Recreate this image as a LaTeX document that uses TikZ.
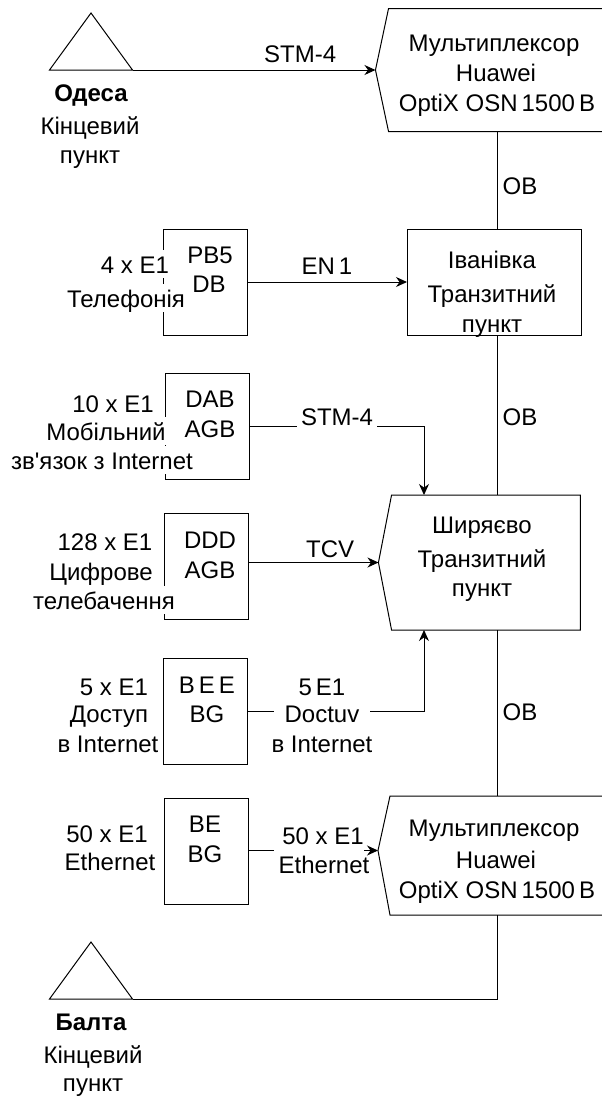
\documentclass[tikz,border=0pt]{standalone}
\usepackage{fontspec}
\setmainfont{Liberation Sans}[Ligatures=TeXOff]
\usetikzlibrary{shapes.geometric, shapes.symbols, arrows.meta, positioning, calc}

\tikzset{
  txt/.style={inner sep=0pt, text height=18pt, text depth=0pt, yshift=2pt, font=\fontsize{24}{26}\selectfont},
  txtw/.style={txt, fill=white, inner xsep=1pt, inner ysep=5pt},
  unitbox/.style={draw, rectangle, fill=white, line width=1pt, minimum width=84pt, minimum height=106pt, inner sep=0pt, outer sep=0pt},
  endtri/.style={draw, isosceles triangle, isosceles triangle stretches, shape border rotate=90, line width=1pt, minimum width=83pt, minimum height=57pt, inner sep=0pt, outer sep=0pt, anchor=apex},
  muxbox/.style={draw, signal, signal to=west, signal from=nowhere, line width=1pt, inner sep=0pt, outer sep=0pt},
  arr/.style={-{Stealth[length=11pt,width=10pt]}, line width=1pt},
  lnk/.style={line width=1pt}
}

\begin{document}
\begin{tikzpicture}[x=1pt, y=-1pt]
    \clip (0,0) rectangle (602,1096);

    \node [endtri] (odesa) at (91,13) {};
    \node [endtri] (balta) at (91,942) {};

    \node [muxbox, minimum width=236pt, minimum height=123pt, signal pointer angle=156] (muxtop) at (500,70) {};
    \node [muxbox, minimum width=202pt, minimum height=135pt, signal pointer angle=158] (shir) at (486,562.5) {};
    \node [draw, rectangle, line width=1pt, minimum width=174pt, minimum height=106pt, inner sep=0pt, outer sep=0pt] (ivan) at (494,282) {};

    % the lower multiplexer has its point above the middle
    \coordinate (muxbotw) at (378,850.5);
    \coordinate (muxbotn) at (497,796);
    \coordinate (muxbots) at (497,915);
    \draw [lnk] (390,796) -- (muxbotw) -- (390,915) -- (612,915) -- (612,796) -- cycle;

    \node [unitbox] (pbbox) at (205,282) {};
    \node [unitbox] (dabbox) at (207,426) {};
    \node [unitbox] (dddbox) at (206,566) {};
    \node [unitbox] (beebox) at (205.5,711.5) {};
    \node [unitbox] (bebox) at (206,851.5) {};

    \coordinate (trunk) at (497,0);
    \coordinate (shirtop) at (424,495);
    \coordinate (shirbot) at (424,630);

    % links
    \draw [arr] (odesa.right corner) -- node[pos=.69, above=5pt, txt] (stma) {STM-4} (muxtop.west);
    \draw [lnk] (muxtop.south -| trunk) -- (ivan.north -| trunk);
    \draw [lnk] (ivan.south -| trunk) -- (shir.north -| trunk);
    \draw [lnk] (shir.south -| trunk) -- (muxbotn);
    \draw [lnk] (balta.right corner) -| (muxbots);
    \draw [arr] (pbbox.east) -- node[above=5pt, txt] (enone) {EN\,1} (ivan.west);
    \draw [arr] (dabbox.east) -| (shirtop);
    \draw [arr] (dddbox.east |- shir.west) -- node[pos=.63, above=3pt, txt] (tcv) {TCV} (shir.west);
    \draw [arr] (beebox.east) -| (shirbot);
    \draw [arr] (bebox.east |- muxbotw) -- (muxbotw);

    % Odesa
    \node [txt, font=\fontsize{24}{26}\selectfont\bfseries] (odn) at (91,94) {Одеса};
    \node [txt] (odk) at (90,127) {Кінцевий};
    \node [txt] (odp) at (90,156) {пункт};

    % Balta
    \node [txt, font=\fontsize{24}{26}\selectfont\bfseries] (ban) at (91,1023) {Балта};
    \node [txt] (bak) at (93,1056) {Кінцевий};
    \node [txt] (bap) at (93,1084) {пункт};

    % multiplexers
    \node [txt] (mta) at (494,44) {Мультиплексор};
    \node [txt] (mtb) at (496,74) {Huawei};
    \node [txt] (mtc) at (497,104) {OptiX OSN\,1500\,B};
    \node [txt] (mba) at (494,829) {Мультиплексор};
    \node [txt] (mbb) at (496,861) {Huawei};
    \node [txt] (mbc) at (497,891) {OptiX OSN\,1500\,B};

    % transit points
    \node [txt] (iva) at (492,261) {Іванівка};
    \node [txt] (ivb) at (492,295) {Транзитний};
    \node [txt] (ivc) at (492,325) {пункт};
    \node [txt] (sha) at (482,526) {Ширяєво};
    \node [txt] (shb) at (482,560) {Транзитний};
    \node [txt] (shc) at (482,589) {пункт};

    % fibre labels
    \node [txt] (oba) at (520,187) {ОВ};
    \node [txt] (obb) at (520,418) {ОВ};
    \node [txt] (obc) at (520,713) {ОВ};

    % unit labels
    \node [txt] (pba) at (210,256) {PB5};
    \node [txt] (pbb) at (209,285) {DB};
    \node [txt] (daa) at (210,400) {DAB};
    \node [txt] (dab) at (210,430) {AGB};
    \node [txt] (dda) at (210,541) {DDD};
    \node [txt] (ddb) at (210,571) {AGB};
    \node [txt] (bea) at (207,686) {B\,E\,E};
    \node [txt] (beb) at (207,715) {BG};
    \node [txt] (bga) at (205,825) {BE};
    \node [txt] (bgb) at (205,855) {BG};

    % inputs
    \node [txtw] (tea) at (135,266) {4 x E1};
    \node [txtw] (teb) at (126,300) {Телефонія};
    \node [txt] (moa) at (113,405) {10 x E1};
    \node [txtw] (mob) at (106,433) {Мобільний};
    \node [txtw] (moc) at (102,462) {зв'язок з Internet};
    \node [txt] (cia) at (105,543) {128 x E1};
    \node [txt] (cib) at (101,573) {Цифрове};
    \node [txtw] (cic) at (104,602) {телебачення};
    \node [txt] (ina) at (114,688) {5 x E1};
    \node [txt] (inb) at (109,715) {Доступ};
    \node [txt] (inc) at (108,745) {в Internet};
    \node [txt] (eta) at (107,835) {50 x E1};
    \node [txt] (etb) at (110,863) {Ethernet};

    % link labels
    \node [txtw, inner xsep=4pt] (stmb) at (337,418) {STM-4};
    \node [txt] (doa) at (322,688) {5\,E1};
    \node [txtw, inner xsep=11pt] (dob) at (322,715) {Doctuv};
    \node [txt] (doc) at (322,745) {в Internet};
    \node [txtw, inner xsep=0pt, inner ysep=9pt] (eaa) at (319,837) {\hspace*{8pt}50 x E1};
    \node [txt] (eab) at (324,866) {Ethernet};
\end{tikzpicture}
\end{document}
